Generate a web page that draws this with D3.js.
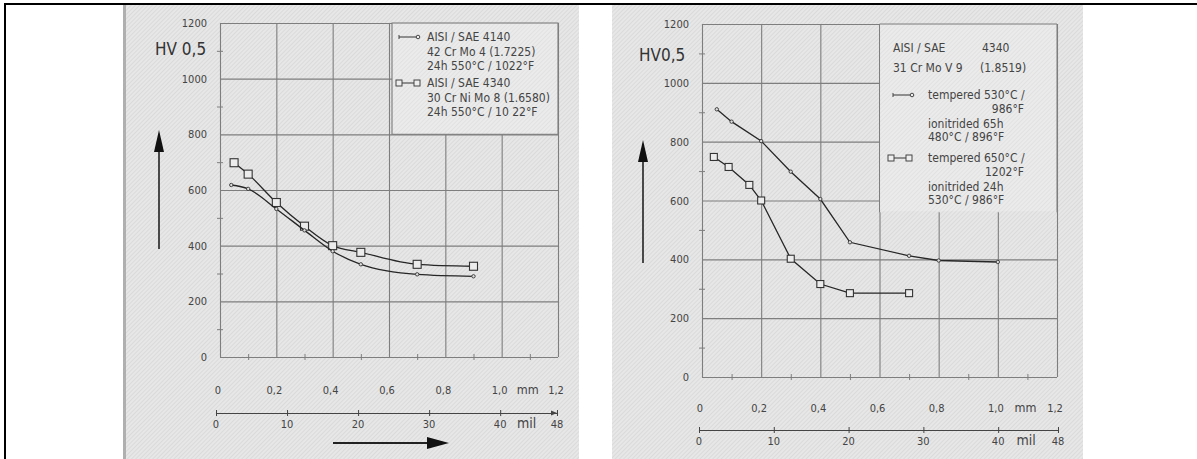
<!DOCTYPE html>
<html><head><meta charset="utf-8">
<script src="https://cdn.jsdelivr.net/npm/d3@7"></script>
<style>
html,body{margin:0;padding:0;background:#fff;}
svg text{font-family:"DejaVu Sans Condensed","DejaVu Sans",sans-serif;font-stretch:condensed;fill:#444;}
</style></head>
<body>
<svg id="c" width="1197" height="459"></svg>
<script>
// ---------- data ----------
const hvTicks = [0, 200, 400, 600, 800, 1000, 1200];
const hvMinor = [100, 300, 500, 700, 900, 1100];
const mmTicks = [0, 0.2, 0.4, 0.6, 0.8, 1.0, 1.2];
const mmTickLabels = ["0", "0,2", "0,4", "0,6", "0,8", "1,0", "1,2"];
const mmMinor = [0.1, 0.3, 0.5, 0.7, 0.9, 1.1];
const milTicks = [0, 10, 20, 30, 40, 48];
const milTickLabels = ["0", "10", "20", "30", "40", "48"];

// left chart
const depth4140 = [0.04, 0.1, 0.2, 0.3, 0.4, 0.5, 0.7, 0.9];
const hv4140 = [618, 604, 532, 455, 380, 333, 297, 290];
const depth4340 = [0.05, 0.1, 0.2, 0.3, 0.4, 0.5, 0.7, 0.9];
const hv4340 = [698, 657, 555, 470, 400, 376, 333, 326];
const legend1a = ["AISI / SAE 4140", "42 Cr Mo 4 (1.7225)", "24h  550°C / 1022°F"];
const legend1b = ["AISI / SAE  4340", "30 Cr Ni Mo 8 (1.6580)", "24h  550°C / 10 22°F"];

// right chart
const depthT530 = [0.05, 0.1, 0.2, 0.3, 0.4, 0.5, 0.7, 0.8, 1.0];
const hvT530 = [910, 868, 802, 698, 605, 458, 412, 396, 391];
const depthT650 = [0.04, 0.09, 0.16, 0.2, 0.3, 0.4, 0.5, 0.7];
const hvT650 = [748, 714, 653, 600, 402, 316, 285, 285];
const legend2Head = ["AISI / SAE", "4340", "31 Cr Mo V 9", "(1.8519)"];
const legend2a = ["tempered 530°C /", "986°F", "ionitrided 65h", "480°C / 896°F"];
const legend2b = ["tempered 650°C /", "1202°F", "ionitrided 24h", "530°C / 986°F"];

// ---------- drawing ----------
const svg = d3.select("#c");
const defs = svg.append("defs");
const pat = defs.append("pattern").attr("id","tex").attr("width",3).attr("height",3)
  .attr("patternUnits","userSpaceOnUse").attr("patternTransform","rotate(45)");
pat.append("rect").attr("width",3).attr("height",3).attr("fill","#e7e7e7");
pat.append("rect").attr("width",1).attr("height",3).attr("fill","#dadada");

// frame
svg.append("line").attr("x1",4).attr("x2",1197).attr("y1",4).attr("y2",4).attr("stroke","#000").attr("stroke-width",2);
svg.append("line").attr("x1",5).attr("x2",5).attr("y1",3).attr("y2",459).attr("stroke","#000").attr("stroke-width",2);

// panels
svg.append("rect").attr("x",123).attr("y",5).attr("width",456).attr("height",454).attr("fill","url(#tex)");
svg.append("rect").attr("x",123).attr("y",5).attr("width",3).attr("height",454).attr("fill","#9a9a9a").attr("opacity",0.7);
svg.append("rect").attr("x",612).attr("y",5).attr("width",471).attr("height",454).attr("fill","url(#tex)");

const gridCol = "#7e7e7e", lineCol = "#262626";

function drawChart(cfg) {
  const x = d3.scaleLinear().domain([0, 1.2]).range(cfg.xr);
  const y = d3.scaleLinear().domain([0, 1200]).range(cfg.yr);
  const mil = d3.scaleLinear().domain([0, 48]).range(cfg.milr);
  const g = svg.append("g");
  const W = cfg.xr[1] - cfg.xr[0];
  const H = cfg.yr[0] - cfg.yr[1];

  // grid via axes
  const gy = g.append("g").attr("transform", `translate(${cfg.xr[0]},0)`)
    .call(d3.axisLeft(y).tickValues(hvTicks).tickSize(-W).tickFormat(""));
  gy.select(".domain").remove();
  gy.selectAll("line").attr("stroke", gridCol).attr("stroke-width", 1.1);
  const gx = g.append("g").attr("transform", `translate(0,${cfg.yr[0]})`)
    .call(d3.axisBottom(x).tickValues(mmTicks).tickSize(-H).tickFormat(""));
  gx.select(".domain").remove();
  gx.selectAll("line").attr("stroke", gridCol).attr("stroke-width", 1.1);

  // minor ticks
  [d3.axisLeft, d3.axisRight].forEach(ax => {
    const m = g.append("g").attr("transform", `translate(${cfg.xr[0]},0)`)
      .call(ax(y).tickValues(hvMinor).tickSize(3).tickFormat(""));
    m.select(".domain").remove();
    m.selectAll("line").attr("stroke", gridCol);
  });
  [d3.axisTop, d3.axisBottom].forEach(ax => {
    const m = g.append("g").attr("transform", `translate(0,${cfg.yr[0]})`)
      .call(ax(x).tickValues(mmMinor).tickSize(3).tickFormat(""));
    m.select(".domain").remove();
    m.selectAll("line").attr("stroke", gridCol);
  });

  // legend area covering grid
  const lx0 = x(0.6) + cfg.legPad, lx1 = x(1.2), ly0 = y(1200), ly1 = y(cfg.legBottom);
  g.append("rect").attr("x", lx0).attr("y", ly0).attr("width", lx1 - lx0).attr("height", ly1 - ly0)
    .attr("fill", "url(#tex)").attr("stroke", cfg.legBorder ? gridCol : "none").attr("stroke-width", 1.1);
  g.append("rect").attr("x", lx0 + 1).attr("y", ly0 + 1).attr("width", lx1 - lx0 - 2).attr("height", ly1 - ly0 - 2)
    .attr("fill", "#fff").attr("opacity", 0.2);
  if (!cfg.legBorder) {
    g.append("line").attr("x1", x(0.6)).attr("x2", x(0.6)).attr("y1", ly0).attr("y2", ly1).attr("stroke", gridCol);
    g.append("line").attr("x1", x(0.6)).attr("x2", x(1.2)).attr("y1", ly0).attr("y2", ly0).attr("stroke", gridCol);
    g.append("line").attr("x1", x(1.2)).attr("x2", x(1.2)).attr("y1", ly0).attr("y2", ly1).attr("stroke", gridCol);
  }

  // y labels
  g.append("g").selectAll("text").data(hvTicks).join("text")
    .attr("x", cfg.xr[0] - 13).attr("y", d => y(d) + 4).attr("text-anchor", "end")
    .attr("font-size", 11).text(d => d);
  // mm labels
  g.append("g").selectAll("text").data(mmTicks).join("text")
    .attr("x", d => x(d) - 2).attr("y", cfg.mmY).attr("text-anchor", "middle")
    .attr("font-size", 11).text((d, i) => mmTickLabels[i]);
  g.append("text").attr("x", (x(1.0) + x(1.2)) / 2 - 2).attr("y", cfg.mmY).attr("text-anchor", "middle")
    .attr("font-size", 12.5).text("mm");

  // mil axis
  const ma = g.append("g").attr("transform", `translate(0,${cfg.milY})`)
    .call(d3.axisBottom(mil).tickValues(milTicks).tickSize(3).tickSizeOuter(0).tickFormat(""));
  ma.select(".domain").attr("stroke", "#444").attr("stroke-width", 1.2);
  ma.selectAll(".tick line").attr("stroke", "#444").attr("y1", -3).attr("y2", 3);
  if (cfg.milArrow) {
    g.append("path").attr("d", `M${mil(48)},${cfg.milY} l-6,-2.5 l0,5 Z`).attr("fill", "#444");
  }
  g.append("g").selectAll("text").data(milTicks).join("text")
    .attr("x", d => mil(d)).attr("y", cfg.milY + 15).attr("text-anchor", "middle")
    .attr("font-size", 11).text((d, i) => milTickLabels[i]);
  g.append("text").attr("x", (mil(40) + mil(48)) / 2 - 2).attr("y", cfg.milY + 15).attr("text-anchor", "middle")
    .attr("font-size", 14).text("mil");

  // HV label
  g.append("text").attr("x", cfg.hvX).attr("y", cfg.hvY).attr("font-size", 17).style("fill", "#333").text(cfg.hvLabel);

  // up arrow
  g.append("line").attr("x1", cfg.upX).attr("x2", cfg.upX).attr("y1", cfg.upTop + 18).attr("y2", cfg.upBot)
    .attr("stroke", "#222").attr("stroke-width", 1.6);
  g.append("path").attr("d", `M${cfg.upX},${cfg.upTop} l-5,22 l10,0 Z`).attr("fill", "#111");

  return { x, y, g };
}

function drawSeries(c, xs, ys, marker, curve, sq) {
  const pts = xs.map((d, i) => [c.x(d), c.y(ys[i])]);
  c.g.append("path").datum(pts).attr("d", d3.line().curve(curve))
    .attr("fill", "none").attr("stroke", lineCol).attr("stroke-width", 1.3);
  if (marker === "sq") {
    c.g.append("g").selectAll("rect").data(pts).join("rect")
      .attr("x", d => d[0] - sq / 2).attr("y", d => d[1] - sq / 2).attr("width", sq).attr("height", sq)
      .attr("fill", "#ececec").attr("stroke", "#333").attr("stroke-width", 1.1);
  } else {
    c.g.append("g").selectAll("circle").data(pts).join("circle")
      .attr("cx", d => d[0]).attr("cy", d => d[1]).attr("r", 1.7)
      .attr("fill", "#ddd").attr("stroke", "#333").attr("stroke-width", 0.9);
  }
}

function legendSym(g, x, y, type) {
  g.append("line").attr("x1", x).attr("x2", x + 18).attr("y1", y).attr("y2", y).attr("stroke", "#444").attr("stroke-width", 1.1);
  if (type === "sq") {
    [x, x + 18].forEach(px => g.append("rect").attr("x", px - 3).attr("y", y - 3).attr("width", 6).attr("height", 6)
      .attr("fill", "#eee").attr("stroke", "#444"));
  } else {
    g.append("line").attr("x1", x).attr("x2", x).attr("y1", y - 2).attr("y2", y + 2).attr("stroke", "#444");
    g.append("circle").attr("cx", x + 19).attr("cy", y).attr("r", 1.8).attr("fill", "#eee").attr("stroke", "#444");
  }
}

// ----- left chart -----
const c1 = drawChart({
  xr: [220, 558], yr: [357, 23], milr: [216, 557],
  legBottom: 800, legPad: 3, legBorder: true,
  mmY: 394, milY: 413, milArrow: true,
  hvLabel: "HV 0,5", hvX: 155, hvY: 55, upX: 159, upTop: 130, upBot: 249
});
drawSeries(c1, depth4340, hv4340, "sq", d3.curveMonotoneX, 8);
drawSeries(c1, depth4140, hv4140, "dot", d3.curveMonotoneX, 0);
legendSym(c1.g, 399, 37, "dot");
legendSym(c1.g, 399, 83, "sq");
[legend1a, legend1b].forEach((arr, k) => {
  arr.forEach((t, i) => c1.g.append("text").attr("x", 427).attr("y", 41 + k * 46 + i * 14.5)
    .attr("font-size", 12).text(t));
});
// bottom arrow
c1.g.append("line").attr("x1", 333).attr("x2", 430).attr("y1", 443).attr("y2", 443).attr("stroke", "#222").attr("stroke-width", 1.8);
c1.g.append("path").attr("d", "M449,443 l-22,-6 l0,12 Z").attr("fill", "#111");

// ----- right chart -----
const c2 = drawChart({
  xr: [702, 1057], yr: [377, 24], milr: [699, 1058],
  legBottom: 560, legPad: 0, legBorder: false,
  mmY: 412, milY: 430, milArrow: false,
  hvLabel: "HV0,5", hvX: 639, hvY: 61, upX: 643, upTop: 140, upBot: 263
});
drawSeries(c2, depthT530, hvT530, "dot", d3.curveLinear, 0);
drawSeries(c2, depthT650, hvT650, "sq", d3.curveLinear, 7);
c2.g.append("text").attr("x", 893).attr("y", 52).attr("font-size", 12).text(legend2Head[0]);
c2.g.append("text").attr("x", 982).attr("y", 52).attr("font-size", 12).text(legend2Head[1]);
c2.g.append("text").attr("x", 893).attr("y", 72).attr("font-size", 12).text(legend2Head[2]);
c2.g.append("text").attr("x", 980).attr("y", 72).attr("font-size", 12).text(legend2Head[3]);
legendSym(c2.g, 893, 95, "dot");
legendSym(c2.g, 891, 158, "sq");
[legend2a, legend2b].forEach((arr, k) => {
  const y0 = 99 + k * 63;
  c2.g.append("text").attr("x", 928).attr("y", y0).attr("font-size", 12).text(arr[0]);
  c2.g.append("text").attr("x", 1024).attr("y", y0 + 14).attr("text-anchor", "end").attr("font-size", 12).text(arr[1]);
  c2.g.append("text").attr("x", 928).attr("y", y0 + 29).attr("font-size", 12).text(arr[2]);
  c2.g.append("text").attr("x", 928).attr("y", y0 + 42).attr("font-size", 12).text(arr[3]);
});
</script>
</body></html>
